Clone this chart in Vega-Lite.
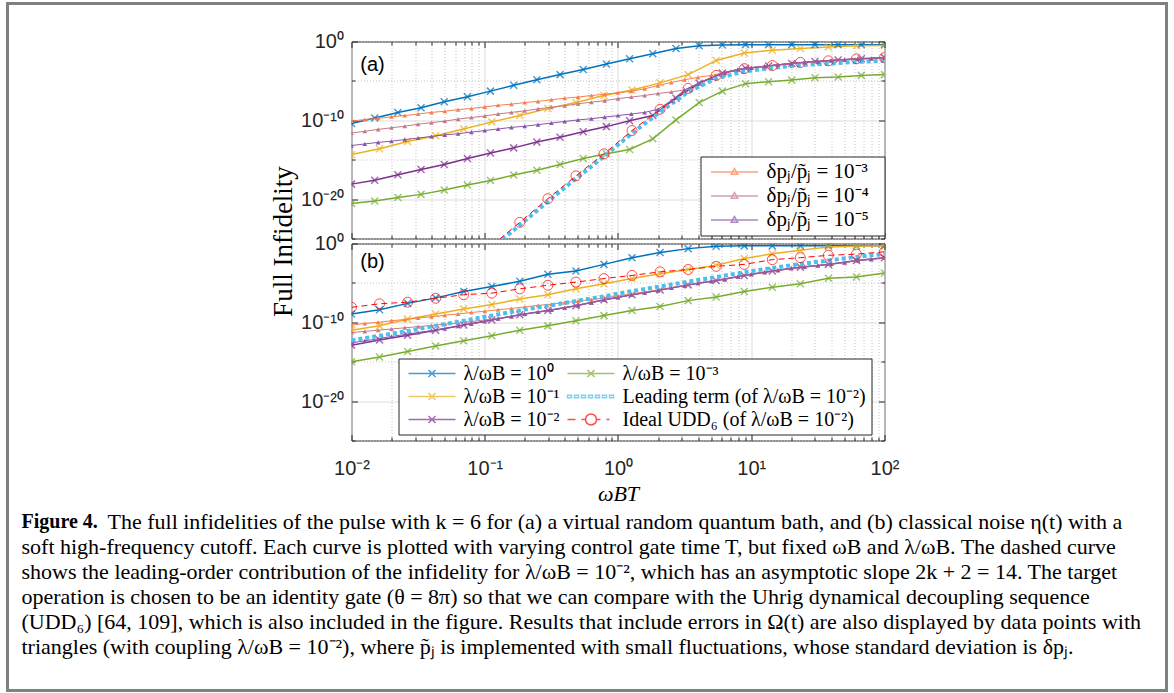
{
"$schema":"https://vega.github.io/schema/vega-lite/v6.json",
"padding":{"left":5.5,"top":1.5,"right":0,"bottom":0},
"background":"white",
"config":{"view":{"stroke":"#262626","strokeWidth":1},"axis":{"labelFont":"Liberation Sans","labelFontSize":20,"labelColor":"#262626","labelOverlap":false,"labelFlush":false,"domain":false,"tickColor":"#262626","tickWidth":1},"font":"Liberation Sans"},
"datasets":{
"A":[
{"s":"L0","x":0.01,"y":3.981e-11},{"s":"L0","x":0.01493,"y":1.995e-10},{"s":"L0","x":0.02228,"y":1e-9},{"s":"L0","x":0.03327,"y":3.981e-9},{"s":"L0","x":0.04966,"y":2.239e-8},{"s":"L0","x":0.07413,"y":1e-7},{"s":"L0","x":0.1104,"y":5.012e-7},{"s":"L0","x":0.1648,"y":2.818e-6},{"s":"L0","x":0.246,"y":1.413e-5},{"s":"L0","x":0.3673,"y":6.31e-5},{"s":"L0","x":0.5483,"y":2.818e-4},{"s":"L0","x":0.8185,"y":1.413e-3},{"s":"L0","x":1.222,"y":6.31e-3},{"s":"L0","x":1.824,"y":2.818e-2},{"s":"L0","x":2.723,"y":0.1259},{"s":"L0","x":4.064,"y":0.2818},{"s":"L0","x":6.067,"y":0.3548},{"s":"L0","x":9.057,"y":0.3981},{"s":"L0","x":13.49,"y":0.3981},{"s":"L0","x":20.14,"y":0.3981},{"s":"L0","x":30.06,"y":0.3981},{"s":"L0","x":44.87,"y":0.3981},{"s":"L0","x":66.99,"y":0.3981},{"s":"L0","x":100,"y":0.3981},
{"s":"L1","x":0.01,"y":4.467e-15},{"s":"L1","x":0.01624,"y":2.512e-14},{"s":"L1","x":0.02637,"y":1.995e-13},{"s":"L1","x":0.04281,"y":1.122e-12},{"s":"L1","x":0.06952,"y":7.943e-12},{"s":"L1","x":0.1129,"y":6.31e-11},{"s":"L1","x":0.1833,"y":3.981e-10},{"s":"L1","x":0.2976,"y":3.162e-9},{"s":"L1","x":0.4833,"y":1.778e-8},{"s":"L1","x":0.7848,"y":1.413e-7},{"s":"L1","x":1.274,"y":7.079e-7},{"s":"L1","x":2.069,"y":5.623e-6},{"s":"L1","x":3.36,"y":6.31e-5},{"s":"L1","x":5.456,"y":3.981e-3},{"s":"L1","x":8.859,"y":3.548e-2},{"s":"L1","x":14.38,"y":7.943e-2},{"s":"L1","x":23.36,"y":0.1259},{"s":"L1","x":37.93,"y":0.1995},{"s":"L1","x":61.58,"y":0.2818},{"s":"L1","x":100,"y":0.3162},
{"s":"L2","x":0.01,"y":7.943e-19},{"s":"L2","x":0.01493,"y":2.512e-18},{"s":"L2","x":0.02228,"y":1.259e-17},{"s":"L2","x":0.03327,"y":5.623e-17},{"s":"L2","x":0.04966,"y":2.512e-16},{"s":"L2","x":0.07413,"y":1.413e-15},{"s":"L2","x":0.1104,"y":7.079e-15},{"s":"L2","x":0.1648,"y":3.162e-14},{"s":"L2","x":0.246,"y":1.778e-13},{"s":"L2","x":0.3673,"y":7.079e-13},{"s":"L2","x":0.5483,"y":3.548e-12},{"s":"L2","x":0.8185,"y":1.585e-11},{"s":"L2","x":1.222,"y":8.913e-11},{"s":"L2","x":1.824,"y":3.981e-10},{"s":"L2","x":2.723,"y":6.31e-8},{"s":"L2","x":4.064,"y":5.012e-6},{"s":"L2","x":6.067,"y":1e-4},{"s":"L2","x":9.057,"y":3.981e-4},{"s":"L2","x":13.49,"y":7.943e-4},{"s":"L2","x":20.14,"y":1.585e-3},{"s":"L2","x":30.06,"y":2.818e-3},{"s":"L2","x":44.87,"y":4.467e-3},{"s":"L2","x":66.99,"y":6.31e-3},{"s":"L2","x":100,"y":8.913e-3},
{"s":"L3","x":0.01,"y":2.818e-21},{"s":"L3","x":0.01493,"y":5.623e-21},{"s":"L3","x":0.02228,"y":1.585e-20},{"s":"L3","x":0.03327,"y":3.981e-20},{"s":"L3","x":0.04966,"y":1.413e-19},{"s":"L3","x":0.07413,"y":6.31e-19},{"s":"L3","x":0.1104,"y":2.239e-18},{"s":"L3","x":0.1648,"y":1.122e-17},{"s":"L3","x":0.246,"y":4.467e-17},{"s":"L3","x":0.3673,"y":2.512e-16},{"s":"L3","x":0.5483,"y":1.413e-15},{"s":"L3","x":0.8185,"y":5.623e-15},{"s":"L3","x":1.222,"y":1.995e-14},{"s":"L3","x":1.824,"y":4.467e-13},{"s":"L3","x":2.723,"y":1.122e-10},{"s":"L3","x":4.064,"y":1.778e-8},{"s":"L3","x":6.067,"y":5.012e-7},{"s":"L3","x":9.057,"y":4.467e-6},{"s":"L3","x":13.49,"y":7.943e-6},{"s":"L3","x":20.14,"y":1.259e-5},{"s":"L3","x":30.06,"y":2.512e-5},{"s":"L3","x":44.87,"y":3.162e-5},{"s":"L3","x":66.99,"y":5.012e-5},{"s":"L3","x":100,"y":6.31e-5},
{"s":"udd","x":0.1129,"y":1.259e-26},{"s":"udd","x":0.1833,"y":1.122e-23},{"s":"udd","x":0.2976,"y":1.122e-20},{"s":"udd","x":0.4833,"y":8.913e-18},{"s":"udd","x":0.7848,"y":5.623e-15},{"s":"udd","x":1.274,"y":5.012e-12},{"s":"udd","x":2.069,"y":2.512e-9},{"s":"udd","x":3.36,"y":1.122e-6},{"s":"udd","x":5.456,"y":5.012e-5},{"s":"udd","x":8.859,"y":3.548e-4},{"s":"udd","x":14.38,"y":8.913e-4},{"s":"udd","x":23.36,"y":2.239e-3},{"s":"udd","x":37.93,"y":3.548e-3},{"s":"udd","x":61.58,"y":6.31e-3},{"s":"udd","x":100,"y":8.913e-3},
{"s":"lead","x":0.1129,"y":5.623e-27},{"s":"lead","x":0.1833,"y":5.012e-24},{"s":"lead","x":0.2976,"y":5.012e-21},{"s":"lead","x":0.4833,"y":3.981e-18},{"s":"lead","x":0.7848,"y":2.512e-15},{"s":"lead","x":1.274,"y":2.239e-12},{"s":"lead","x":2.069,"y":1.122e-9},{"s":"lead","x":3.36,"y":3.981e-7},{"s":"lead","x":5.456,"y":1.995e-5},{"s":"lead","x":8.859,"y":1.585e-4},{"s":"lead","x":14.38,"y":4.467e-4},{"s":"lead","x":23.36,"y":1e-3},{"s":"lead","x":37.93,"y":1.585e-3},{"s":"lead","x":61.58,"y":2.512e-3},{"s":"lead","x":100,"y":3.548e-3},
{"s":"d3","x":0.01,"y":7.943e-11},{"s":"d3","x":0.01259,"y":1.259e-10},{"s":"d3","x":0.01585,"y":1.778e-10},{"s":"d3","x":0.01995,"y":2.818e-10},{"s":"d3","x":0.02512,"y":3.981e-10},{"s":"d3","x":0.03162,"y":6.31e-10},{"s":"d3","x":0.03981,"y":1e-9},{"s":"d3","x":0.05012,"y":1.413e-9},{"s":"d3","x":0.0631,"y":2.239e-9},{"s":"d3","x":0.07943,"y":3.162e-9},{"s":"d3","x":0.1,"y":5.012e-9},{"s":"d3","x":0.1259,"y":7.943e-9},{"s":"d3","x":0.1585,"y":1.122e-8},{"s":"d3","x":0.1995,"y":1.778e-8},{"s":"d3","x":0.2512,"y":2.512e-8},{"s":"d3","x":0.3162,"y":3.981e-8},{"s":"d3","x":0.3981,"y":6.31e-8},{"s":"d3","x":0.5012,"y":8.913e-8},{"s":"d3","x":0.631,"y":1.413e-7},{"s":"d3","x":0.7943,"y":1.995e-7},{"s":"d3","x":1,"y":3.162e-7},{"s":"d3","x":1.259,"y":5.012e-7},{"s":"d3","x":1.585,"y":1e-6},{"s":"d3","x":1.995,"y":2.512e-6},{"s":"d3","x":2.512,"y":6.31e-6},{"s":"d3","x":3.162,"y":1.413e-5},{"s":"d3","x":3.981,"y":2.818e-5},{"s":"d3","x":5.012,"y":5.012e-5},{"s":"d3","x":6.31,"y":1.122e-4},{"s":"d3","x":7.943,"y":2.818e-4},{"s":"d3","x":10,"y":4.467e-4},{"s":"d3","x":12.59,"y":7.079e-4},{"s":"d3","x":15.85,"y":1.122e-3},{"s":"d3","x":19.95,"y":1.585e-3},{"s":"d3","x":25.12,"y":2.239e-3},{"s":"d3","x":31.62,"y":2.818e-3},{"s":"d3","x":39.81,"y":3.981e-3},{"s":"d3","x":50.12,"y":5.012e-3},{"s":"d3","x":63.1,"y":6.31e-3},{"s":"d3","x":79.43,"y":7.079e-3},{"s":"d3","x":100,"y":8.913e-3},
{"s":"d4","x":0.01,"y":2.512e-12},{"s":"d4","x":0.01259,"y":3.981e-12},{"s":"d4","x":0.01585,"y":7.079e-12},{"s":"d4","x":0.01995,"y":1.122e-11},{"s":"d4","x":0.02512,"y":1.778e-11},{"s":"d4","x":0.03162,"y":3.162e-11},{"s":"d4","x":0.03981,"y":5.012e-11},{"s":"d4","x":0.05012,"y":7.943e-11},{"s":"d4","x":0.0631,"y":1.413e-10},{"s":"d4","x":0.07943,"y":2.239e-10},{"s":"d4","x":0.1,"y":3.548e-10},{"s":"d4","x":0.1259,"y":6.31e-10},{"s":"d4","x":0.1585,"y":1e-9},{"s":"d4","x":0.1995,"y":1.585e-9},{"s":"d4","x":0.2512,"y":2.818e-9},{"s":"d4","x":0.3162,"y":4.467e-9},{"s":"d4","x":0.3981,"y":7.079e-9},{"s":"d4","x":0.5012,"y":1.259e-8},{"s":"d4","x":0.631,"y":1.995e-8},{"s":"d4","x":0.7943,"y":3.162e-8},{"s":"d4","x":1,"y":5.623e-8},{"s":"d4","x":1.259,"y":8.913e-8},{"s":"d4","x":1.585,"y":1.413e-7},{"s":"d4","x":1.995,"y":2.512e-7},{"s":"d4","x":2.512,"y":3.981e-7},{"s":"d4","x":3.162,"y":7.079e-7},{"s":"d4","x":3.981,"y":4.467e-6},{"s":"d4","x":5.012,"y":2.512e-5},{"s":"d4","x":6.31,"y":1.122e-4},{"s":"d4","x":7.943,"y":2.818e-4},{"s":"d4","x":10,"y":4.467e-4},{"s":"d4","x":12.59,"y":7.079e-4},{"s":"d4","x":15.85,"y":1.122e-3},{"s":"d4","x":19.95,"y":1.585e-3},{"s":"d4","x":25.12,"y":2.239e-3},{"s":"d4","x":31.62,"y":2.818e-3},{"s":"d4","x":39.81,"y":3.981e-3},{"s":"d4","x":50.12,"y":5.012e-3},{"s":"d4","x":63.1,"y":6.31e-3},{"s":"d4","x":79.43,"y":7.079e-3},{"s":"d4","x":100,"y":8.913e-3},
{"s":"d5","x":0.01,"y":6.31e-14},{"s":"d5","x":0.01259,"y":1e-13},{"s":"d5","x":0.01585,"y":1.585e-13},{"s":"d5","x":0.01995,"y":2.239e-13},{"s":"d5","x":0.02512,"y":3.548e-13},{"s":"d5","x":0.03162,"y":5.623e-13},{"s":"d5","x":0.03981,"y":8.913e-13},{"s":"d5","x":0.05012,"y":1.413e-12},{"s":"d5","x":0.0631,"y":1.995e-12},{"s":"d5","x":0.07943,"y":3.162e-12},{"s":"d5","x":0.1,"y":5.012e-12},{"s":"d5","x":0.1259,"y":7.943e-12},{"s":"d5","x":0.1585,"y":1.259e-11},{"s":"d5","x":0.1995,"y":1.778e-11},{"s":"d5","x":0.2512,"y":2.818e-11},{"s":"d5","x":0.3162,"y":4.467e-11},{"s":"d5","x":0.3981,"y":7.079e-11},{"s":"d5","x":0.5012,"y":1.122e-10},{"s":"d5","x":0.631,"y":1.585e-10},{"s":"d5","x":0.7943,"y":2.512e-10},{"s":"d5","x":1,"y":3.981e-10},{"s":"d5","x":1.259,"y":6.31e-10},{"s":"d5","x":1.585,"y":1e-9},{"s":"d5","x":1.995,"y":2.512e-9},{"s":"d5","x":2.512,"y":3.162e-8},{"s":"d5","x":3.162,"y":7.079e-7},{"s":"d5","x":3.981,"y":4.467e-6},{"s":"d5","x":5.012,"y":2.512e-5},{"s":"d5","x":6.31,"y":1.122e-4},{"s":"d5","x":7.943,"y":2.818e-4},{"s":"d5","x":10,"y":4.467e-4},{"s":"d5","x":12.59,"y":7.079e-4},{"s":"d5","x":15.85,"y":1.122e-3},{"s":"d5","x":19.95,"y":1.585e-3},{"s":"d5","x":25.12,"y":2.239e-3},{"s":"d5","x":31.62,"y":2.818e-3},{"s":"d5","x":39.81,"y":3.981e-3},{"s":"d5","x":50.12,"y":5.012e-3},{"s":"d5","x":63.1,"y":6.31e-3},{"s":"d5","x":79.43,"y":7.079e-3},{"s":"d5","x":100,"y":8.913e-3}
],
"B":[
{"s":"L0","x":0.01,"y":1.122e-9},{"s":"L0","x":0.01624,"y":3.981e-9},{"s":"L0","x":0.02637,"y":2.512e-8},{"s":"L0","x":0.04281,"y":1.259e-7},{"s":"L0","x":0.06952,"y":7.943e-7},{"s":"L0","x":0.1129,"y":3.548e-6},{"s":"L0","x":0.1833,"y":1.585e-5},{"s":"L0","x":0.2976,"y":1.259e-4},{"s":"L0","x":0.4833,"y":3.162e-4},{"s":"L0","x":0.7848,"y":2.239e-3},{"s":"L0","x":1.274,"y":1.585e-2},{"s":"L0","x":2.069,"y":7.079e-2},{"s":"L0","x":3.36,"y":0.2239},{"s":"L0","x":5.456,"y":0.4467},{"s":"L0","x":8.859,"y":0.5012},{"s":"L0","x":14.38,"y":0.5012},{"s":"L0","x":23.36,"y":0.5012},{"s":"L0","x":37.93,"y":0.5012},{"s":"L0","x":61.58,"y":0.5012},{"s":"L0","x":100,"y":0.5012},
{"s":"L1","x":0.01,"y":1e-11},{"s":"L1","x":0.01624,"y":3.548e-11},{"s":"L1","x":0.02637,"y":2.512e-10},{"s":"L1","x":0.04281,"y":1.122e-9},{"s":"L1","x":0.06952,"y":5.012e-9},{"s":"L1","x":0.1129,"y":1.778e-8},{"s":"L1","x":0.1833,"y":8.913e-8},{"s":"L1","x":0.2976,"y":3.162e-7},{"s":"L1","x":0.4833,"y":1.778e-6},{"s":"L1","x":0.7848,"y":7.943e-6},{"s":"L1","x":1.274,"y":3.548e-5},{"s":"L1","x":2.069,"y":1.413e-4},{"s":"L1","x":3.36,"y":5.012e-4},{"s":"L1","x":5.456,"y":1.778e-3},{"s":"L1","x":8.859,"y":1.259e-2},{"s":"L1","x":14.38,"y":5.012e-2},{"s":"L1","x":23.36,"y":0.1413},{"s":"L1","x":37.93,"y":0.3548},{"s":"L1","x":61.58,"y":0.4467},{"s":"L1","x":100,"y":0.5012},
{"s":"L2","x":0.01,"y":1.259e-13},{"s":"L2","x":0.01624,"y":5.623e-13},{"s":"L2","x":0.02637,"y":2.239e-12},{"s":"L2","x":0.04281,"y":1e-11},{"s":"L2","x":0.06952,"y":4.467e-11},{"s":"L2","x":0.1129,"y":1.995e-10},{"s":"L2","x":0.1833,"y":8.913e-10},{"s":"L2","x":0.2976,"y":3.162e-9},{"s":"L2","x":0.4833,"y":1.259e-8},{"s":"L2","x":0.7848,"y":7.079e-8},{"s":"L2","x":1.274,"y":3.162e-7},{"s":"L2","x":2.069,"y":1.259e-6},{"s":"L2","x":3.36,"y":5.623e-6},{"s":"L2","x":5.456,"y":1.995e-5},{"s":"L2","x":8.859,"y":8.913e-5},{"s":"L2","x":14.38,"y":3.162e-4},{"s":"L2","x":23.36,"y":1e-3},{"s":"L2","x":37.93,"y":2.239e-3},{"s":"L2","x":61.58,"y":7.079e-3},{"s":"L2","x":100,"y":1.585e-2},
{"s":"L3","x":0.01,"y":1e-15},{"s":"L3","x":0.01624,"y":3.981e-15},{"s":"L3","x":0.02637,"y":1.995e-14},{"s":"L3","x":0.04281,"y":1e-13},{"s":"L3","x":0.06952,"y":4.467e-13},{"s":"L3","x":0.1129,"y":1.995e-12},{"s":"L3","x":0.1833,"y":1e-11},{"s":"L3","x":0.2976,"y":3.548e-11},{"s":"L3","x":0.4833,"y":1.585e-10},{"s":"L3","x":0.7848,"y":7.079e-10},{"s":"L3","x":1.274,"y":3.162e-9},{"s":"L3","x":2.069,"y":1e-8},{"s":"L3","x":3.36,"y":5.623e-8},{"s":"L3","x":5.456,"y":1.585e-7},{"s":"L3","x":8.859,"y":7.943e-7},{"s":"L3","x":14.38,"y":2.818e-6},{"s":"L3","x":23.36,"y":7.943e-6},{"s":"L3","x":37.93,"y":3.981e-5},{"s":"L3","x":61.58,"y":5.623e-5},{"s":"L3","x":100,"y":1.778e-4},
{"s":"udd","x":0.01,"y":7.943e-9},{"s":"udd","x":0.01624,"y":2.239e-8},{"s":"udd","x":0.02637,"y":3.548e-8},{"s":"udd","x":0.04281,"y":1.122e-7},{"s":"udd","x":0.06952,"y":3.162e-7},{"s":"udd","x":0.1129,"y":5.012e-7},{"s":"udd","x":0.1833,"y":1.778e-6},{"s":"udd","x":0.2976,"y":5.012e-6},{"s":"udd","x":0.4833,"y":1.259e-5},{"s":"udd","x":0.7848,"y":3.548e-5},{"s":"udd","x":1.274,"y":8.913e-5},{"s":"udd","x":2.069,"y":2.512e-4},{"s":"udd","x":3.36,"y":5.012e-4},{"s":"udd","x":5.456,"y":1.259e-3},{"s":"udd","x":8.859,"y":2.239e-3},{"s":"udd","x":14.38,"y":8.913e-3},{"s":"udd","x":23.36,"y":1.585e-2},{"s":"udd","x":37.93,"y":3.162e-2},{"s":"udd","x":61.58,"y":4.467e-2},{"s":"udd","x":100,"y":8.913e-2},
{"s":"lead","x":0.01,"y":5.012e-13},{"s":"lead","x":0.01624,"y":1.995e-12},{"s":"lead","x":0.02637,"y":7.943e-12},{"s":"lead","x":0.04281,"y":3.548e-11},{"s":"lead","x":0.06952,"y":1.585e-10},{"s":"lead","x":0.1129,"y":7.079e-10},{"s":"lead","x":0.1833,"y":3.162e-9},{"s":"lead","x":0.2976,"y":1.259e-8},{"s":"lead","x":0.4833,"y":5.012e-8},{"s":"lead","x":0.7848,"y":1.995e-7},{"s":"lead","x":1.274,"y":8.913e-7},{"s":"lead","x":2.069,"y":3.548e-6},{"s":"lead","x":3.36,"y":1.413e-5},{"s":"lead","x":5.456,"y":5.623e-5},{"s":"lead","x":8.859,"y":2.239e-4},{"s":"lead","x":14.38,"y":7.943e-4},{"s":"lead","x":23.36,"y":2.512e-3},{"s":"lead","x":37.93,"y":7.079e-3},{"s":"lead","x":61.58,"y":1.995e-2},{"s":"lead","x":100,"y":5.012e-2},
{"s":"d3","x":0.01,"y":4.467e-11},{"s":"d3","x":0.01259,"y":7.079e-11},{"s":"d3","x":0.01585,"y":1e-10},{"s":"d3","x":0.01995,"y":1.585e-10},{"s":"d3","x":0.02512,"y":2.239e-10},{"s":"d3","x":0.03162,"y":3.548e-10},{"s":"d3","x":0.03981,"y":5.012e-10},{"s":"d3","x":0.05012,"y":7.943e-10},{"s":"d3","x":0.0631,"y":1.122e-9},{"s":"d3","x":0.07943,"y":1.778e-9},{"s":"d3","x":0.1,"y":2.512e-9},{"s":"d3","x":0.1259,"y":3.981e-9},{"s":"d3","x":0.1585,"y":5.623e-9},{"s":"d3","x":0.1995,"y":8.913e-9},{"s":"d3","x":0.2512,"y":1.413e-8},{"s":"d3","x":0.3162,"y":1.995e-8},{"s":"d3","x":0.3981,"y":3.162e-8},{"s":"d3","x":0.5012,"y":5.012e-8},{"s":"d3","x":0.631,"y":7.943e-8},{"s":"d3","x":0.7943,"y":1.259e-7},{"s":"d3","x":1,"y":2.239e-7},{"s":"d3","x":1.259,"y":3.981e-7},{"s":"d3","x":1.585,"y":7.079e-7},{"s":"d3","x":1.995,"y":1.259e-6},{"s":"d3","x":2.512,"y":2.512e-6},{"s":"d3","x":3.162,"y":5.012e-6},{"s":"d3","x":3.981,"y":1e-5},{"s":"d3","x":5.012,"y":1.778e-5},{"s":"d3","x":6.31,"y":3.162e-5},{"s":"d3","x":7.943,"y":6.31e-5},{"s":"d3","x":10,"y":1.259e-4},{"s":"d3","x":12.59,"y":2.239e-4},{"s":"d3","x":15.85,"y":3.981e-4},{"s":"d3","x":19.95,"y":7.079e-4},{"s":"d3","x":25.12,"y":1.122e-3},{"s":"d3","x":31.62,"y":1.585e-3},{"s":"d3","x":39.81,"y":2.512e-3},{"s":"d3","x":50.12,"y":3.981e-3},{"s":"d3","x":63.1,"y":7.079e-3},{"s":"d3","x":79.43,"y":1e-2},{"s":"d3","x":100,"y":1.585e-2},
{"s":"d4","x":0.01,"y":5.012e-12},{"s":"d4","x":0.01259,"y":7.079e-12},{"s":"d4","x":0.01585,"y":1e-11},{"s":"d4","x":0.01995,"y":1.413e-11},{"s":"d4","x":0.02512,"y":1.995e-11},{"s":"d4","x":0.03162,"y":2.818e-11},{"s":"d4","x":0.03981,"y":3.981e-11},{"s":"d4","x":0.05012,"y":5.623e-11},{"s":"d4","x":0.0631,"y":7.943e-11},{"s":"d4","x":0.07943,"y":1.259e-10},{"s":"d4","x":0.1,"y":1.995e-10},{"s":"d4","x":0.1259,"y":3.162e-10},{"s":"d4","x":0.1585,"y":5.623e-10},{"s":"d4","x":0.1995,"y":1.122e-9},{"s":"d4","x":0.2512,"y":1.995e-9},{"s":"d4","x":0.3162,"y":3.548e-9},{"s":"d4","x":0.3981,"y":7.079e-9},{"s":"d4","x":0.5012,"y":1.413e-8},{"s":"d4","x":0.631,"y":3.162e-8},{"s":"d4","x":0.7943,"y":7.079e-8},{"s":"d4","x":1,"y":1.413e-7},{"s":"d4","x":1.259,"y":3.162e-7},{"s":"d4","x":1.585,"y":5.623e-7},{"s":"d4","x":1.995,"y":1.122e-6},{"s":"d4","x":2.512,"y":2.239e-6},{"s":"d4","x":3.162,"y":4.467e-6},{"s":"d4","x":3.981,"y":8.913e-6},{"s":"d4","x":5.012,"y":1.585e-5},{"s":"d4","x":6.31,"y":2.818e-5},{"s":"d4","x":7.943,"y":6.31e-5},{"s":"d4","x":10,"y":1.259e-4},{"s":"d4","x":12.59,"y":2.239e-4},{"s":"d4","x":15.85,"y":3.981e-4},{"s":"d4","x":19.95,"y":7.079e-4},{"s":"d4","x":25.12,"y":1.122e-3},{"s":"d4","x":31.62,"y":1.585e-3},{"s":"d4","x":39.81,"y":2.512e-3},{"s":"d4","x":50.12,"y":3.981e-3},{"s":"d4","x":63.1,"y":7.079e-3},{"s":"d4","x":79.43,"y":1e-2},{"s":"d4","x":100,"y":1.585e-2},
{"s":"d5","x":0.01,"y":2.512e-13},{"s":"d5","x":0.01259,"y":4.467e-13},{"s":"d5","x":0.01585,"y":7.943e-13},{"s":"d5","x":0.01995,"y":1.585e-12},{"s":"d5","x":0.02512,"y":2.818e-12},{"s":"d5","x":0.03162,"y":5.012e-12},{"s":"d5","x":0.03981,"y":8.913e-12},{"s":"d5","x":0.05012,"y":1.585e-11},{"s":"d5","x":0.0631,"y":3.162e-11},{"s":"d5","x":0.07943,"y":6.31e-11},{"s":"d5","x":0.1,"y":1.259e-10},{"s":"d5","x":0.1259,"y":2.818e-10},{"s":"d5","x":0.1585,"y":5.623e-10},{"s":"d5","x":0.1995,"y":1.122e-9},{"s":"d5","x":0.2512,"y":1.995e-9},{"s":"d5","x":0.3162,"y":3.548e-9},{"s":"d5","x":0.3981,"y":7.079e-9},{"s":"d5","x":0.5012,"y":1.413e-8},{"s":"d5","x":0.631,"y":3.162e-8},{"s":"d5","x":0.7943,"y":7.079e-8},{"s":"d5","x":1,"y":1.413e-7},{"s":"d5","x":1.259,"y":3.162e-7},{"s":"d5","x":1.585,"y":5.623e-7},{"s":"d5","x":1.995,"y":1.122e-6},{"s":"d5","x":2.512,"y":2.239e-6},{"s":"d5","x":3.162,"y":4.467e-6},{"s":"d5","x":3.981,"y":8.913e-6},{"s":"d5","x":5.012,"y":1.585e-5},{"s":"d5","x":6.31,"y":2.818e-5},{"s":"d5","x":7.943,"y":6.31e-5},{"s":"d5","x":10,"y":1.259e-4},{"s":"d5","x":12.59,"y":2.239e-4},{"s":"d5","x":15.85,"y":3.981e-4},{"s":"d5","x":19.95,"y":7.079e-4},{"s":"d5","x":25.12,"y":1.122e-3},{"s":"d5","x":31.62,"y":1.585e-3},{"s":"d5","x":39.81,"y":2.512e-3},{"s":"d5","x":50.12,"y":3.981e-3},{"s":"d5","x":63.1,"y":7.079e-3},{"s":"d5","x":79.43,"y":1e-2},{"s":"d5","x":100,"y":1.585e-2}
],
"cap":[
{"ln":1,"b":1,"t":"Figure 4."},
{"ln":1,"b":0,"t":"The full infidelities of the pulse with k = 6 for (a) a virtual random quantum bath, and (b) classical noise η(t) with a"},
{"ln":2,"b":0,"t":"soft high-frequency cutoff. Each curve is plotted with varying control gate time T, but fixed ωB and λ/ωB. The dashed curve"},
{"ln":3,"b":0,"t":"shows the leading-order contribution of the infidelity for λ/ωB = 10⁻², which has an asymptotic slope 2k + 2 = 14. The target"},
{"ln":4,"b":0,"t":"operation is chosen to be an identity gate (θ = 8π) so that we can compare with the Uhrig dynamical decoupling sequence"},
{"ln":5,"b":0,"t":"(UDD₆) [64, 109], which is also included in the figure. Results that include errors in Ω(t) are also displayed by data points with"},
{"ln":6,"b":0,"t":"triangles (with coupling λ/ωB = 10⁻²), where p̃ⱼ is implemented with small fluctuations, whose standard deviation is δpⱼ."}
]
},
"vconcat":[
{
"width":533,"height":197,
"data":{"name":"A"},
"layer":[
{"layer":[
{"transform":[{"filter":"indexof(['L0','L1','L2','L3'], datum.s) >= 0"}],
 "mark":{"type":"line","strokeWidth":1.5,"clip":true},
 "encoding":{
  "x":{"field":"x","type":"quantitative","scale":{"type":"log","domain":[0.01,100],"nice":false},
   "axis":{"orient":"bottom","values":[0.01,0.02,0.03,0.04,0.05,0.06,0.07,0.08,0.09,0.1,0.2,0.3,0.4,0.5,0.6,0.7,0.8,0.9,1,2,3,4,5,6,7,8,9,10,20,30,40,50,60,70,80,90,100],"labels":false,"title":null,"grid":true,
    "gridColor":{"condition":{"test":"indexof([0.01,0.1,1,10,100], datum.value) >= 0","value":"#dcdcdc"},"value":"#c4c4c4"},
    "gridDash":{"condition":{"test":"indexof([0.01,0.1,1,10,100], datum.value) >= 0","value":[]},"value":[1,2]},
    "tickSize":{"condition":{"test":"indexof([0.01,0.1,1,10,100], datum.value) >= 0","value":-6},"value":-3.5}}},
  "y":{"field":"y","type":"quantitative","scale":{"type":"log","domain":[1e-25,1],"nice":false},
   "axis":{"orient":"left","values":[1e-25,1e-20,1e-15,1e-10,1e-5,1],"labelExpr":"datum.value == 1 ? '10⁰' : datum.value == 1e-10 ? '10⁻¹⁰' : datum.value == 1e-20 ? '10⁻²⁰' : ''","labelPadding":14,"grid":true,
    "gridColor":{"condition":{"test":"datum.value == 1e-10 || datum.value == 1e-20","value":"#dcdcdc"},"value":"#c4c4c4"},
    "gridDash":{"condition":{"test":"datum.value == 1e-10 || datum.value == 1e-20","value":[]},"value":[1,2]},
    "tickSize":{"condition":{"test":"datum.value == 1 || datum.value == 1e-10 || datum.value == 1e-20","value":-6},"value":-3.5},
    "title":"Full    Infidelity","titleFont":"Liberation Serif","titleFontSize":27,"titleFontWeight":"normal","titleColor":"#000","titleX":-68,"titleY":199.5,"titleAlign":"center","titleBaseline":"middle","titleAngle":-90}},
  "stroke":{"field":"s","type":"nominal","scale":{"domain":["L0","L1","L2","L3","lead","udd","d3","d4","d5"],"range":["#0072BD","#EDB120","#7E2F8E","#77AC30","#4DBEEE","#FF0000","#F77F4F","#C47A88","#8A56AA"]},"legend":null}
 }},
{"transform":[{"filter":"indexof(['L0','L1','L2','L3'], datum.s) >= 0"}],
 "mark":{"type":"point","shape":"M-1,-1L1,1M-1,1L1,-1","size":49,"filled":false,"strokeWidth":1.5,"clip":true},
 "encoding":{"x":{"field":"x","type":"quantitative"},"y":{"field":"y","type":"quantitative"},"stroke":{"field":"s","type":"nominal","legend":null}}},
{"transform":[{"filter":"datum.s == 'lead'"}],
 "mark":{"type":"line","strokeWidth":4,"strokeDash":[4,3],"stroke":"#4DBEEE","clip":true},
 "encoding":{"x":{"field":"x","type":"quantitative"},"y":{"field":"y","type":"quantitative"}}},
{"transform":[{"filter":"datum.s == 'udd'"}],
 "mark":{"type":"line","strokeWidth":1,"strokeDash":[6,4],"stroke":"#FF0000","clip":true},
 "encoding":{"x":{"field":"x","type":"quantitative"},"y":{"field":"y","type":"quantitative"}}},
{"transform":[{"filter":"datum.s == 'udd'"}],
 "mark":{"type":"point","shape":"circle","size":100,"filled":false,"stroke":"#FF0000","strokeWidth":1,"clip":true},
 "encoding":{"x":{"field":"x","type":"quantitative"},"y":{"field":"y","type":"quantitative"}}},
{"transform":[{"filter":"indexof(['d3','d4','d5'], datum.s) >= 0"}],
 "mark":{"type":"line","strokeWidth":1,"clip":true},
 "encoding":{"x":{"field":"x","type":"quantitative"},"y":{"field":"y","type":"quantitative"},"stroke":{"field":"s","type":"nominal","legend":null}}},
{"transform":[{"filter":"indexof(['d3','d4','d5'], datum.s) >= 0"}],
 "mark":{"type":"point","shape":"triangle-up","size":22,"filled":true,"clip":true,"opacity":1},
 "encoding":{"x":{"field":"x","type":"quantitative"},"y":{"field":"y","type":"quantitative"},"fill":{"field":"s","type":"nominal","scale":{"domain":["L0","L1","L2","L3","lead","udd","d3","d4","d5"],"range":["#0072BD","#EDB120","#7E2F8E","#77AC30","#4DBEEE","#FF0000","#F77F4F","#C47A88","#8A56AA"]},"legend":null}}},
{"data":{"values":[{"x":0.01164,"y":1.17e-3,"t":"(a)"}]},
 "mark":{"type":"text","align":"left","baseline":"middle","font":"Liberation Sans","fontSize":20,"color":"#000"},
 "encoding":{"x":{"field":"x","type":"quantitative"},"y":{"field":"y","type":"quantitative"},"text":{"field":"t"}}},
{"data":{"values":[{"s":"d3"}]},"transform":[{"filter":"false"}],
 "mark":{"type":"point","filled":false,"strokeWidth":1.5},
 "encoding":{
  "color":{"field":"s","type":"nominal","scale":{"domain":["d3","d4","d5"],"range":["#F77F4F","#C47A88","#8A56AA"]},
   "legend":{"orient":"none","legendX":349,"legendY":115,"title":null,"padding":5,"fillColor":"white","strokeColor":"#262626","cornerRadius":0,"labelFont":"Liberation Serif","labelFontSize":21,"labelColor":"#000","labelOffset":40,"labelLimit":0,"symbolSize":100,"symbolStrokeWidth":1.5,"rowPadding":2,
    "labelExpr":"datum.label == 'd3' ? 'δpⱼ/p̃ⱼ  =  10⁻³' : datum.label == 'd4' ? 'δpⱼ/p̃ⱼ  =  10⁻⁴' : 'δpⱼ/p̃ⱼ  =  10⁻⁵'"}},
  "shape":{"field":"s","type":"nominal","scale":{"domain":["d3","d4","d5"],"range":["M-1,0L8.4,0M3.7,-0.7L4.35,0.45L3.05,0.45Z","M-1,0L8.4,0M3.7,-0.7L4.35,0.45L3.05,0.45Z","M-1,0L8.4,0M3.7,-0.7L4.35,0.45L3.05,0.45Z"]},
   "legend":{"orient":"none","legendX":349,"legendY":115,"title":null,"padding":5,"fillColor":"white","strokeColor":"#262626","cornerRadius":0,"labelFont":"Liberation Serif","labelFontSize":21,"labelColor":"#000","labelOffset":40,"labelLimit":0,"symbolSize":100,"symbolStrokeWidth":1.5,"rowPadding":2,
    "labelExpr":"datum.label == 'd3' ? 'δpⱼ/p̃ⱼ  =  10⁻³' : datum.label == 'd4' ? 'δpⱼ/p̃ⱼ  =  10⁻⁴' : 'δpⱼ/p̃ⱼ  =  10⁻⁵'"}}
 }}
]},
{"data":{"values":[{"x":1,"y":1e-10}]},
 "mark":{"type":"point","opacity":0},
 "encoding":{
  "x":{"field":"x","type":"quantitative","scale":{"type":"log","domain":[0.01,100],"nice":false},
   "axis":{"orient":"top","values":[0.01,0.02,0.03,0.04,0.05,0.06,0.07,0.08,0.09,0.1,0.2,0.3,0.4,0.5,0.6,0.7,0.8,0.9,1,2,3,4,5,6,7,8,9,10,20,30,40,50,60,70,80,90,100],"labels":false,"title":null,"grid":false,
    "tickSize":{"condition":{"test":"indexof([0.01,0.1,1,10,100], datum.value) >= 0","value":-6},"value":-3.5}}},
  "y":{"field":"y","type":"quantitative","scale":{"type":"log","domain":[1e-25,1],"nice":false},
   "axis":{"orient":"right","values":[1e-25,1e-20,1e-15,1e-10,1e-5,1],"labels":false,"title":null,"grid":false,
    "tickSize":{"condition":{"test":"datum.value == 1 || datum.value == 1e-10 || datum.value == 1e-20","value":-6},"value":-3.5}}}
 }}
],
"resolve":{"scale":{"x":"independent","y":"independent"}}
},
{
"width":533,"height":197,
"data":{"name":"B"},
"layer":[
{"layer":[
{"transform":[{"filter":"indexof(['L0','L1','L2','L3'], datum.s) >= 0"}],
 "mark":{"type":"line","strokeWidth":1.5,"clip":true},
 "encoding":{
  "x":{"field":"x","type":"quantitative","scale":{"type":"log","domain":[0.01,100],"nice":false},
   "axis":{"orient":"bottom","values":[0.01,0.02,0.03,0.04,0.05,0.06,0.07,0.08,0.09,0.1,0.2,0.3,0.4,0.5,0.6,0.7,0.8,0.9,1,2,3,4,5,6,7,8,9,10,20,30,40,50,60,70,80,90,100],
    "labelExpr":"datum.value == 0.01 ? '10⁻²' : datum.value == 0.1 ? '10⁻¹' : datum.value == 1 ? '10⁰' : datum.value == 10 ? '10¹' : datum.value == 100 ? '10²' : ''","labelPadding":24,
    "title":"ωBT","titleFont":"Liberation Serif","titleFontSize":22,"titleFontStyle":"italic","titleFontWeight":"normal","titleColor":"#000","titlePadding":2,"grid":true,
    "gridColor":{"condition":{"test":"indexof([0.01,0.1,1,10,100], datum.value) >= 0","value":"#dcdcdc"},"value":"#c4c4c4"},
    "gridDash":{"condition":{"test":"indexof([0.01,0.1,1,10,100], datum.value) >= 0","value":[]},"value":[1,2]},
    "tickSize":{"condition":{"test":"indexof([0.01,0.1,1,10,100], datum.value) >= 0","value":-6},"value":-3.5}}},
  "y":{"field":"y","type":"quantitative","scale":{"type":"log","domain":[1e-25,1],"nice":false},
   "axis":{"orient":"left","values":[1e-25,1e-20,1e-15,1e-10,1e-5,1],"labelExpr":"datum.value == 1 ? '10⁰' : datum.value == 1e-10 ? '10⁻¹⁰' : datum.value == 1e-20 ? '10⁻²⁰' : ''","labelPadding":14,"grid":true,"title":null,
    "gridColor":{"condition":{"test":"datum.value == 1e-10 || datum.value == 1e-20","value":"#dcdcdc"},"value":"#c4c4c4"},
    "gridDash":{"condition":{"test":"datum.value == 1e-10 || datum.value == 1e-20","value":[]},"value":[1,2]},
    "tickSize":{"condition":{"test":"datum.value == 1 || datum.value == 1e-10 || datum.value == 1e-20","value":-6},"value":-3.5}}},
  "stroke":{"field":"s","type":"nominal","scale":{"domain":["L0","L1","L2","L3","lead","udd","d3","d4","d5"],"range":["#0072BD","#EDB120","#7E2F8E","#77AC30","#4DBEEE","#FF0000","#F77F4F","#C47A88","#8A56AA"]},"legend":null}
 }},
{"transform":[{"filter":"indexof(['L0','L1','L2','L3'], datum.s) >= 0"}],
 "mark":{"type":"point","shape":"M-1,-1L1,1M-1,1L1,-1","size":49,"filled":false,"strokeWidth":1.5,"clip":true},
 "encoding":{"x":{"field":"x","type":"quantitative"},"y":{"field":"y","type":"quantitative"},"stroke":{"field":"s","type":"nominal","legend":null}}},
{"transform":[{"filter":"indexof(['d3','d4','d5'], datum.s) >= 0"}],
 "mark":{"type":"line","strokeWidth":1,"clip":true},
 "encoding":{"x":{"field":"x","type":"quantitative"},"y":{"field":"y","type":"quantitative"},"stroke":{"field":"s","type":"nominal","legend":null}}},
{"transform":[{"filter":"indexof(['d3','d4','d5'], datum.s) >= 0"}],
 "mark":{"type":"point","shape":"triangle-up","size":22,"filled":true,"clip":true,"opacity":1},
 "encoding":{"x":{"field":"x","type":"quantitative"},"y":{"field":"y","type":"quantitative"},"fill":{"field":"s","type":"nominal","scale":{"domain":["L0","L1","L2","L3","lead","udd","d3","d4","d5"],"range":["#0072BD","#EDB120","#7E2F8E","#77AC30","#4DBEEE","#FF0000","#F77F4F","#C47A88","#8A56AA"]},"legend":null}}},
{"transform":[{"filter":"datum.s == 'lead'"}],
 "mark":{"type":"line","strokeWidth":4,"strokeDash":[4,3],"stroke":"#4DBEEE","clip":true},
 "encoding":{"x":{"field":"x","type":"quantitative"},"y":{"field":"y","type":"quantitative"}}},
{"transform":[{"filter":"datum.s == 'udd'"}],
 "mark":{"type":"line","strokeWidth":1,"strokeDash":[6,4],"stroke":"#FF0000","clip":true},
 "encoding":{"x":{"field":"x","type":"quantitative"},"y":{"field":"y","type":"quantitative"}}},
{"transform":[{"filter":"datum.s == 'udd'"}],
 "mark":{"type":"point","shape":"circle","size":100,"filled":false,"stroke":"#FF0000","strokeWidth":1,"clip":true},
 "encoding":{"x":{"field":"x","type":"quantitative"},"y":{"field":"y","type":"quantitative"}}},
{"data":{"values":[{"x":0.01164,"y":4.57e-3,"t":"(b)"}]},
 "mark":{"type":"text","align":"left","baseline":"middle","font":"Liberation Sans","fontSize":20,"color":"#000"},
 "encoding":{"x":{"field":"x","type":"quantitative"},"y":{"field":"y","type":"quantitative"},"text":{"field":"t"}}},
{"data":{"values":[{"s":"L0"}]},"transform":[{"filter":"false"}],
 "mark":{"type":"point","filled":false,"strokeWidth":1.5},
 "encoding":{
  "color":{"field":"s","type":"nominal","scale":{"domain":["L0","L1","L2","L3","lead","udd"],"range":["#0072BD","#EDB120","#7E2F8E","#77AC30","#4DBEEE","#FF0000"]},
   "legend":{"orient":"none","legendX":47,"legendY":115,"title":null,"columns":2,"columnPadding":2,"padding":5,"fillColor":"white","strokeColor":"#262626","cornerRadius":0,"labelFont":"Liberation Serif","labelFontSize":20,"labelColor":"#000","labelOffset":40,"labelLimit":0,"symbolSize":100,"symbolStrokeWidth":1.5,"rowPadding":3,
    "labelExpr":"datum.label == 'L0' ? 'λ/ωB = 10⁰' : datum.label == 'L1' ? 'λ/ωB = 10⁻¹' : datum.label == 'L2' ? 'λ/ωB = 10⁻²' : datum.label == 'L3' ? 'λ/ωB = 10⁻³' : datum.label == 'lead' ? 'Leading term (of λ/ωB = 10⁻²)' : 'Ideal  UDD₆ (of λ/ωB = 10⁻²)'"}},
  "shape":{"field":"s","type":"nominal","scale":{"domain":["L0","L1","L2","L3","lead","udd"],"range":["M-1,0L8.4,0M3,-0.7L4.4,0.7M3,0.7L4.4,-0.7","M-1,0L8.4,0M3,-0.7L4.4,0.7M3,0.7L4.4,-0.7","M-1,0L8.4,0M3,-0.7L4.4,0.7M3,0.7L4.4,-0.7","M-1,0L8.4,0M3,-0.7L4.4,0.7M3,0.7L4.4,-0.7","M-1,-0.25h0.8v0.5h-0.8zM0.4,-0.25h0.8v0.5h-0.8zM1.8,-0.25h0.8v0.5h-0.8zM3.2,-0.25h0.8v0.5h-0.8zM4.6,-0.25h0.8v0.5h-0.8zM6,-0.25h0.8v0.5h-0.8zM7.4,-0.25h0.8v0.5h-0.8z","M-1,0L0.6,0M1.8,0L2.6,0M4.8,0L5.6,0M6.8,0L7.4,0M4.8,0A1.1,1.1 0 1,1 2.6,0A1.1,1.1 0 1,1 4.8,0"]},
   "legend":{"orient":"none","legendX":47,"legendY":115,"title":null,"columns":2,"columnPadding":2,"padding":5,"fillColor":"white","strokeColor":"#262626","cornerRadius":0,"labelFont":"Liberation Serif","labelFontSize":20,"labelColor":"#000","labelOffset":40,"labelLimit":0,"symbolSize":100,"symbolStrokeWidth":1.5,"rowPadding":3,
    "labelExpr":"datum.label == 'L0' ? 'λ/ωB = 10⁰' : datum.label == 'L1' ? 'λ/ωB = 10⁻¹' : datum.label == 'L2' ? 'λ/ωB = 10⁻²' : datum.label == 'L3' ? 'λ/ωB = 10⁻³' : datum.label == 'lead' ? 'Leading term (of λ/ωB = 10⁻²)' : 'Ideal  UDD₆ (of λ/ωB = 10⁻²)'"}}
 }}
]},
{"data":{"values":[{"x":1,"y":1e-10}]},
 "mark":{"type":"point","opacity":0},
 "encoding":{
  "x":{"field":"x","type":"quantitative","scale":{"type":"log","domain":[0.01,100],"nice":false},
   "axis":{"orient":"top","values":[0.01,0.02,0.03,0.04,0.05,0.06,0.07,0.08,0.09,0.1,0.2,0.3,0.4,0.5,0.6,0.7,0.8,0.9,1,2,3,4,5,6,7,8,9,10,20,30,40,50,60,70,80,90,100],"labels":false,"title":null,"grid":false,
    "tickSize":{"condition":{"test":"indexof([0.01,0.1,1,10,100], datum.value) >= 0","value":-6},"value":-3.5}}},
  "y":{"field":"y","type":"quantitative","scale":{"type":"log","domain":[1e-25,1],"nice":false},
   "axis":{"orient":"right","values":[1e-25,1e-20,1e-15,1e-10,1e-5,1],"labels":false,"title":null,"grid":false,
    "tickSize":{"condition":{"test":"datum.value == 1 || datum.value == 1e-10 || datum.value == 1e-20","value":-6},"value":-3.5}}}
 }}
],
"resolve":{"scale":{"x":"independent","y":"independent"}}
},
{
"width":1193,"height":245,
"view":{"stroke":null},
"data":{"name":"cap"},
"layer":[
{"data":{"values":[{}]},
 "mark":{"type":"rect","filled":false,"stroke":"#808080","strokeWidth":3,"clip":false},
 "encoding":{"x":{"datum":-14,"type":"quantitative","scale":{"domain":[0,1193],"nice":false,"zero":false},"axis":null},"x2":{"datum":1145},
  "y":{"datum":-19.72,"type":"quantitative","scale":{"domain":[-2.04,7.76],"nice":false,"zero":false,"reverse":true},"axis":null},"y2":{"datum":7.76}}},
{"transform":[{"filter":"datum.b == 1"}],
 "mark":{"type":"text","align":"left","baseline":"middle","font":"Liberation Serif","fontSize":20,"fontWeight":"bold","color":"#000"},
 "encoding":{"x":{"datum":0,"type":"quantitative"},"y":{"field":"ln","type":"quantitative"},"text":{"field":"t"}}},
{"transform":[{"filter":"datum.b == 0 && datum.ln == 1"}],
 "mark":{"type":"text","align":"left","baseline":"middle","font":"Liberation Serif","fontSize":22,"color":"#000","dx":86},
 "encoding":{"x":{"datum":0,"type":"quantitative"},"y":{"field":"ln","type":"quantitative"},"text":{"field":"t"}}},
{"transform":[{"filter":"datum.ln > 1"}],
 "mark":{"type":"text","align":"left","baseline":"middle","font":"Liberation Serif","fontSize":22,"color":"#000"},
 "encoding":{"x":{"datum":0,"type":"quantitative"},"y":{"field":"ln","type":"quantitative"},"text":{"field":"t"}}}
]
}
],
"spacing":5,
"bounds":"flush",
"center":true,
"resolve":{"scale":{"x":"independent","y":"independent","color":"independent","shape":"independent"},"legend":{"color":"independent","shape":"independent"}}
}
